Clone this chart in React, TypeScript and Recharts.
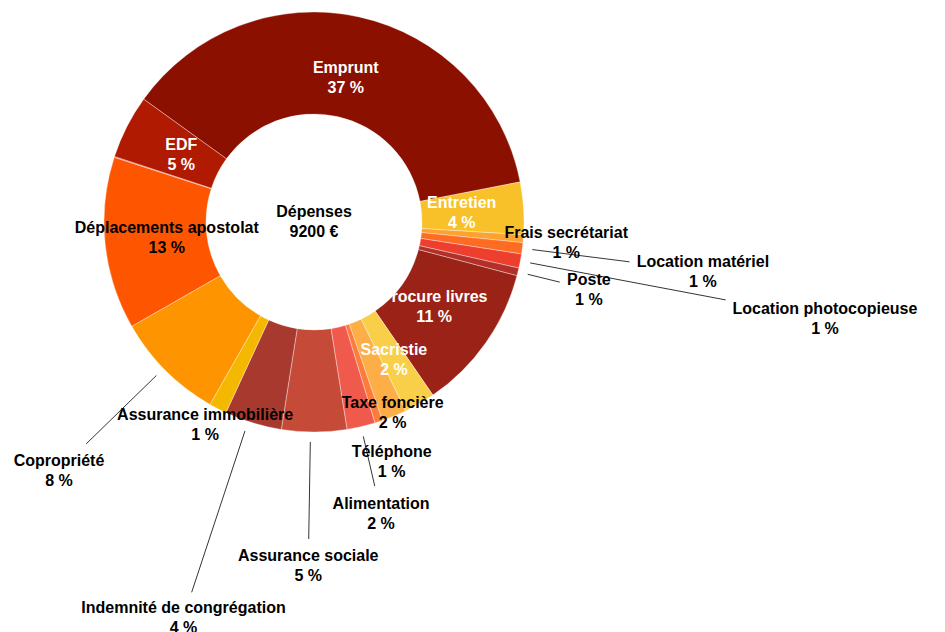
import React from "react";
import { PieChart, Pie, Cell } from "recharts";

// Dépenses, in euros, clockwise from the top-left edge of "Emprunt"
const categories = [
  "Emprunt",
  "Entretien",
  "Frais secrétariat",
  "Location matériel",
  "Location photocopieuse",
  "Poste",
  "Procure livres",
  "Sacristie",
  "Taxe foncière",
  "Téléphone",
  "Alimentation",
  "Assurance sociale",
  "Indemnité de congrégation",
  "Assurance immobilière",
  "Copropriété",
  "Déplacements apostolat",
  "Autres",
  "EDF",
];
const amounts = [
  3404, 370, 55, 80, 100, 55, 1040, 220, 175, 55, 200, 460, 405, 125, 780, 1220,
  6, 450,
];

const sliceColors = [
  "#8b1000",
  "#f8c12a",
  "#fba230",
  "#fd6c22",
  "#ee3e2e",
  "#b3302a",
  "#9a2217",
  "#f9cf4a",
  "#fdae46",
  "#fd7c3a",
  "#f05a4c",
  "#c64a38",
  "#a8392f",
  "#f5b800",
  "#fe9500",
  "#fe5500",
  "#ef4a3a",
  "#b01a00",
];

// label placement: radius of the label centre, end radius of the leader line (0 = none),
// small angle nudge in degrees
type LabelStyle = { r: number; line: number; fill: string; da?: number; hide?: boolean };
const labelStyles: LabelStyle[] = [
  { r: 148, line: 0, fill: "#fff" },
  { r: 148, line: 0, fill: "#fff" },
  { r: 253, line: 0, fill: "#000" },
  { r: 392, line: 318, fill: "#000" },
  { r: 520, line: 419, fill: "#000" },
  { r: 283, line: 253, fill: "#000" },
  { r: 147, line: 0, fill: "#fff" },
  { r: 159, line: 0, fill: "#fff" },
  { r: 206, line: 0, fill: "#000" },
  { r: 252, line: 0, fill: "#000" },
  { r: 299, line: 271, fill: "#000" },
  { r: 344, line: 317, fill: "#000", da: -1 },
  { r: 416, line: 390, fill: "#000", da: -1.4 },
  { r: 230, line: 0, fill: "#000", da: -1 },
  { r: 356, line: 318, fill: "#000", da: -0.8 },
  { r: 148, line: 0, fill: "#000" },
  { r: 0, line: 0, fill: "#000", hide: true },
  { r: 149, line: 0, fill: "#fff" },
];

const data = categories.map((name, i) => ({ name, value: amounts[i] }));
const total = amounts.reduce((a, b) => a + b, 0);

const FONT = "'Liberation Sans', Arial, sans-serif";
const FONT_SIZE = 16;
const RADIAN = Math.PI / 180;

const polar = (cx: number, cy: number, r: number, angle: number) => ({
  x: cx + r * Math.cos(-angle * RADIAN),
  y: cy + r * Math.sin(-angle * RADIAN),
});

const renderLabel = (props: any) => {
  const { cx, cy, midAngle, outerRadius, percent, name, index } = props;
  const st = labelStyles[index];
  if (!st || st.hide) return null;
  const ang = midAngle + (st.da || 0);
  const p = polar(cx, cy, st.r, ang);
  const pct = `${Math.round(percent * 100)} %`;
  let line = null;
  if (st.line > 0) {
    const a = polar(cx, cy, outerRadius + 10, ang);
    const b = polar(cx, cy, st.line, ang);
    line = <line x1={a.x} y1={a.y} x2={b.x} y2={b.y} stroke="#000" strokeWidth={0.8} />;
  }
  return (
    <g key={`lbl-${index}`}>
      {line}
      <text
        x={p.x}
        y={p.y - 10}
        textAnchor="middle"
        dominantBaseline="central"
        fontFamily={FONT}
        fontWeight={700}
        fontSize={FONT_SIZE}
        fill={st.fill}
      >
        {name}
      </text>
      <text
        x={p.x}
        y={p.y + 10}
        textAnchor="middle"
        dominantBaseline="central"
        fontFamily={FONT}
        fontWeight={700}
        fontSize={FONT_SIZE}
        fill={st.fill}
      >
        {pct}
      </text>
    </g>
  );
};

export default function App() {
  return (
    <div style={{ position: "absolute", left: 0, top: 0, width: 945, height: 632, background: "#fff" }}>
      <PieChart width={945} height={632} margin={{ top: 0, right: 0, bottom: 0, left: 0 }}>
        <Pie
          data={data}
          dataKey="value"
          nameKey="name"
          cx={314}
          cy={222}
          innerRadius={108}
          outerRadius={210}
          startAngle={144.2}
          endAngle={-215.8}
          stroke="rgba(255,255,255,0.6)"
          strokeWidth={0.6}
          label={renderLabel}
          labelLine={false}
          isAnimationActive={false}
        >
          {data.map((entry, i) => (
            <Cell key={`cell-${i}`} fill={sliceColors[i]} />
          ))}
        </Pie>
      </PieChart>
      <div
        style={{
          position: "absolute",
          left: 314 - 60,
          top: 222 - 20,
          width: 120,
          textAlign: "center",
          fontFamily: FONT,
          fontWeight: 700,
          fontSize: FONT_SIZE,
          lineHeight: "20px",
          color: "#000",
        }}
      >
        <div>Dépenses</div>
        <div>{total} €</div>
      </div>
    </div>
  );
}
